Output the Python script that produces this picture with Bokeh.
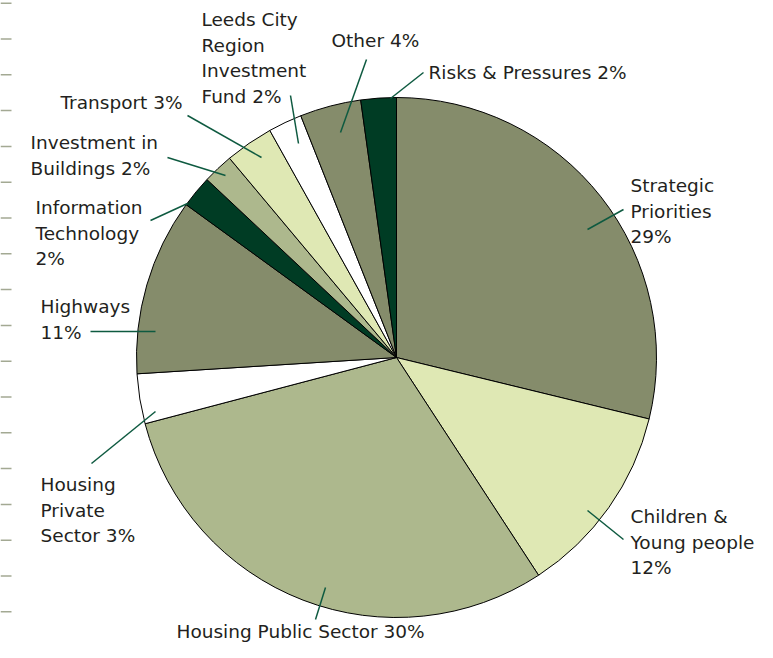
import math
from bokeh.plotting import figure
from bokeh.models import Range1d, ColumnDataSource
from bokeh.core.properties import value
from bokeh.embed import file_html
from bokeh.resources import INLINE

# ---- data ----
categories = ["Strategic Priorities", "Children & Young people", "Housing Public Sector",
              "Housing Private Sector", "Highways", "Information Technology",
              "Investment in Buildings", "Transport", "Leeds City Region Investment Fund",
              "Other", "Risks & Pressures"]
shares = [28.8, 12.0, 30.1, 3.1, 11.0, 2.0, 1.9, 3.0, 2.1, 3.8, 2.2]
label_lines = [["Strategic", "Priorities", "29%"],
               ["Children &", "Young people", "12%"],
               ["Housing Public Sector 30%"],
               ["Housing", "Private", "Sector 3%"],
               ["Highways", "11%"],
               ["Information", "Technology", "2%"],
               ["Investment in", "Buildings 2%"],
               ["Transport 3%"],
               ["Leeds City", "Region", "Investment", "Fund 2%"],
               ["Other 4%"],
               ["Risks & Pressures 2%"]]

# ---- styles / positions (image pixel coords) ----
OLIVE, LIGHT, SAGE, WHITE, DARK = "#858c6b", "#dfe8b4", "#adb88d", "#ffffff", "#003c24"
slice_colors = [OLIVE, LIGHT, SAGE, WHITE, OLIVE, DARK, SAGE, LIGHT, WHITE, OLIVE, DARK]
label_pos = [(630, 185), (630, 516), (176, 631), (40, 484), (40, 306), (35, 207),
             (30, 142), (60, 102), (201, 19), (331, 40), (428, 72)]
leaders = [((623, 209), (587, 229)), ((623, 539), (587, 510)), ((315, 619), (325, 587)),
           ((91, 463), (155, 411)), ((90, 331), (155, 331)), ((150, 220), (187, 203)),
           ((167, 157), (225, 175)), ((187, 115), (261, 157)), ((290, 95), (298, 143)),
           ((366, 59), (340, 132)), ((423, 72), (390, 98))]
LINE_H = 25.5
CX, CY, R = 396, 357, 260

W, H = 757, 642


def Y(yimg):
    return H - yimg


p = figure(width=W, height=H, output_backend="svg", toolbar_location=None,
           x_range=Range1d(0, W), y_range=Range1d(0, H),
           min_border=0, outline_line_color=None)
p.axis.visible = False
p.grid.visible = False
p.background_fill_color = "white"

# left edge dashes
dash_y = [Y(2.7 + 35.8 * k) for k in range(19)]
p.segment(x0=[0] * 19, y0=dash_y, x1=[11] * 19, y1=dash_y, line_color="#a3a993", line_width=1.5)

# pie
total = sum(shares)
starts, ends = [], []
cum = 0.0
for s in shares:
    starts.append(math.pi / 2 - 2 * math.pi * cum / total)
    cum += s
    ends.append(math.pi / 2 - 2 * math.pi * cum / total)
src = ColumnDataSource(dict(cat=categories, share=shares, start=starts, end=ends, color=slice_colors))
p.wedge(x=CX, y=Y(CY), radius=R, start_angle="start", end_angle="end", direction="clock",
        fill_color="color", line_color="black", line_width=1, source=src)

# leader lines
p.segment(x0=[a[0] for a, b in leaders], y0=[Y(a[1]) for a, b in leaders],
          x1=[b[0] for a, b in leaders], y1=[Y(b[1]) for a, b in leaders],
          line_color="#0e5a40", line_width=1.5)

# labels
tx, ty, tt = [], [], []
for lines, (x0, y0) in zip(label_lines, label_pos):
    for i, t in enumerate(lines):
        tx.append(x0)
        ty.append(Y(y0 + i * LINE_H))
        tt.append(t)
p.text(x=tx, y=ty, text=tt, text_font=value("DejaVu Sans"), text_font_size="18.5px",
       text_color="#231f20", text_baseline="middle", text_align="left")

open("out.html", "w").write(file_html(p, INLINE))
